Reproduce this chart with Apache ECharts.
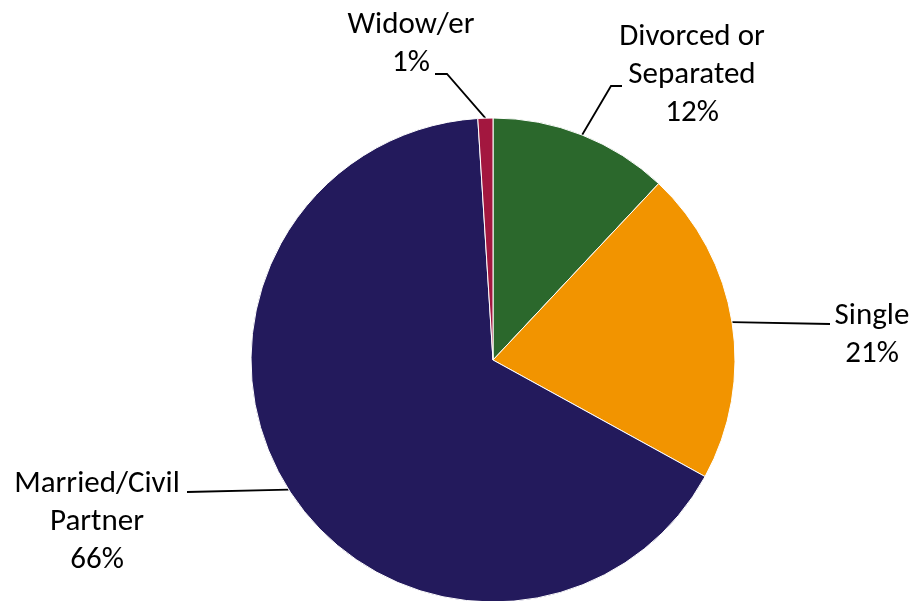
<!DOCTYPE html>
<html>
<head>
<meta charset="utf-8">
<script src="https://cdn.jsdelivr.net/npm/echarts@6/dist/echarts.min.js"></script>
<style>
html,body{margin:0;padding:0;background:#fff;}
#chart{width:914px;height:601px;}
</style>
</head>
<body>
<div id="chart"></div>
<script>
var categories = ['Divorced or\nSeparated', 'Single', 'Married/Civil\nPartner', 'Widow/er'];
var values = [12, 21, 66, 1];
var colors = ['#2B682C', '#F29400', '#231A5C', '#A3173F'];

// label anchor layout: [x, y of label box top, line points after edge]
var labelLayouts = [
  {x: 692, y: 18, pts: [[611, 86], [622, 86]]},
  {x: 872, y: 297, pts: [[830, 324]]},
  {x: 97, y: 465, pts: [[187, 492]]},
  {x: 411, y: 6, pts: [[447, 74], [435, 74]]}
];

var chart = echarts.init(document.getElementById('chart'), null, {renderer: 'canvas'});
var data = categories.map(function (c, i) {
  return {name: c, value: values[i], itemStyle: {color: colors[i]}};
});
chart.setOption({
  animation: false,
  backgroundColor: '#ffffff',
  series: [{
    type: 'pie',
    center: [493, 360],
    radius: 242,
    startAngle: 90,
    clockwise: true,
    data: data,
    itemStyle: {borderColor: '#ffffff', borderWidth: 1},
    label: {
      show: true,
      position: 'outside',
      formatter: function (p) { return p.name + '\n' + Math.round(p.percent) + '%'; },
      color: '#000000',
      fontSize: 31,
      lineHeight: 38,
      fontFamily: 'Carlito, Lato, sans-serif',
      align: 'center'
    },
    labelLine: {show: true, lineStyle: {color: '#000000', width: 1.8}, length: 10, length2: 10},
    labelLayout: function (params) {
      var l = labelLayouts[params.dataIndex];
      var first = params.labelLinePoints ? params.labelLinePoints[0] : null;
      var pts = first ? [first].concat(l.pts) : null;
      return {
        x: l.x, y: l.y, align: 'center', verticalAlign: 'top',
        labelLinePoints: pts
      };
    }
  }]
});
</script>
</body>
</html>
